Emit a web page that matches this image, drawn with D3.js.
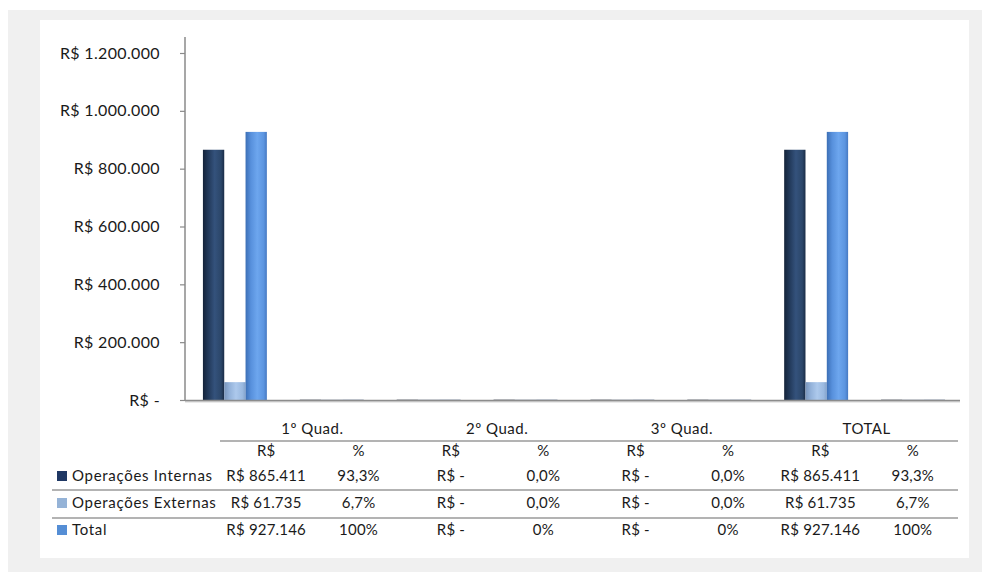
<!DOCTYPE html>
<html>
<head>
<meta charset="utf-8">
<script src="https://cdn.jsdelivr.net/npm/d3@7"></script>
<style>
  html, body { margin: 0; padding: 0; background: #ffffff; }
  svg { display: block; font-family: Lato, "Open Sans", sans-serif; }
  text { fill: #1a1a1a; }
</style>
</head>
<body>
<svg id="chart" width="982" height="572"></svg>
<script>
// Quarter groups and the two sub-columns shown for each of them
const groups = ["1º Quad.", "2º Quad.", "3º Quad.", "TOTAL"];
const subColumns = ["R$", "%"];
const seriesNames = ["Operações Internas", "Operações Externas", "Total"];

// One value per (group, sub-column): R$ amount, then share as a fraction
const internas = [865411, 0.933, 0, 0, 0, 0, 865411, 0.933];
const externas = [61735, 0.067, 0, 0, 0, 0, 61735, 0.067];
const totais   = [927146, 1, 0, 0, 0, 0, 927146, 1];

// Decimal places used for the % column of each series
const pctDecimals = [1, 1, 0];

const yTicks = [0, 200000, 400000, 600000, 800000, 1000000, 1200000];

const seriesValues = [internas, externas, totais];
const categories = d3.range(groups.length * subColumns.length);

const svg = d3.select("#chart");

// Background frame and white chart panel
svg.append("rect").attr("x", 8).attr("y", 10).attr("width", 974).attr("height", 562).attr("fill", "#f0f0f0");
svg.append("rect").attr("x", 40).attr("y", 20).attr("width", 929).attr("height", 538).attr("fill", "#ffffff");

// Portuguese number formatting
const ptBR = d3.formatLocale({ decimal: ",", thousands: ".", grouping: [3], currency: ["R$ ", ""] });
const fmtInt = ptBR.format(",.0f");
const fmtMoney = v => v === 0 ? "R$ -" : "R$ " + fmtInt(v);
const fmtPct = (v, dec) => ptBR.format("." + dec + "%")(v);

// Scales
const y = d3.scaleLinear().domain([0, 1200000]).range([400, 53]);
const x = d3.scaleBand().domain(categories).range([185, 960]).padding(0);
const xs = d3.scaleBand().domain(d3.range(seriesNames.length))
  .range([x.bandwidth() * 0.185, x.bandwidth() * 0.845]).padding(0);

// Cylinder-like gradients for the columns
const defs = svg.append("defs");
const gradStops = [
  [["0", "#142339"], ["0.2", "#1f3554"], ["0.55", "#34527c"], ["0.85", "#2b4669"], ["1", "#1a2c46"]],
  [["0", "#7895bc"], ["0.25", "#93b2da"], ["0.55", "#adc9ec"], ["0.85", "#9ab9e0"], ["1", "#84a3cb"]],
  [["0", "#3c6fb5"], ["0.25", "#5790dc"], ["0.55", "#6da6ee"], ["0.85", "#5c95e0"], ["1", "#4679c2"]]
];
const legendColors = ["#1f3864", "#95b3d7", "#558ed5"];
const zeroColors = ["#5d6570", "#9aa4b2", "#7d8ea8"];
gradStops.forEach((stops, i) => {
  const g = defs.append("linearGradient").attr("id", "g" + i)
    .attr("x1", "0").attr("x2", "1").attr("y1", "0").attr("y2", "0");
  stops.forEach(s => g.append("stop").attr("offset", s[0]).attr("stop-color", s[1]));
});

// Y axis
const yAxis = d3.axisLeft(y).tickValues(yTicks).tickFormat(fmtMoney).tickSize(5).tickPadding(20);
const yg = svg.append("g").attr("transform", "translate(185,0)").call(yAxis);
yg.select(".domain").remove();
yg.selectAll(".tick line").attr("stroke", "#8a8a8a").attr("stroke-width", 1.2);
yg.selectAll(".tick text").attr("font-size", 16).attr("letter-spacing", 0.35)
  .attr("font-family", "Lato, sans-serif").attr("fill", "#1a1a1a");
svg.append("line").attr("x1", 185).attr("x2", 185).attr("y1", 37).attr("y2", 401)
  .attr("stroke", "#8a8a8a").attr("stroke-width", 1.5);

// Columns
const barGroups = svg.append("g");
seriesValues.forEach((vals, si) => {
  barGroups.selectAll(".s" + si)
    .data(vals.map((v, ci) => ({ v, ci })))
    .join("rect")
    .attr("x", d => x(d.ci) + xs(si))
    .attr("width", xs.bandwidth())
    .attr("y", d => y(d.v))
    .attr("height", d => y(0) - y(d.v))
    .attr("fill", "url(#g" + si + ")");
});

// Category axis line
svg.append("line").attr("x1", 185).attr("x2", 960).attr("y1", 401.5).attr("y2", 401.5)
  .attr("stroke", "#d6d6d6").attr("stroke-width", 2);
svg.append("line").attr("x1", 185).attr("x2", 960).attr("y1", 400.5).attr("y2", 400.5)
  .attr("stroke", "#8c8c8c").attr("stroke-width", 1.6);

// Flat columns sitting on the axis line
seriesValues.forEach((vals, si) => {
  barGroups.selectAll(".z" + si)
    .data(vals.map((v, ci) => ({ v, ci })).filter(d => y(0) - y(d.v) < 1))
    .join("rect")
    .attr("x", d => x(d.ci) + xs(si))
    .attr("width", xs.bandwidth())
    .attr("y", 399.6)
    .attr("height", 1.8)
    .attr("fill", zeroColors[si]);
});

// Data table below the chart
const colX = d3.scaleBand().domain(categories).range([220, 959]);
const colCenter = i => colX(i) + colX.bandwidth() / 2;
const table = svg.append("g").attr("font-size", 15).attr("letter-spacing", 0.2)
  .attr("font-family", "Lato, sans-serif");

table.selectAll(".grp").data(groups).join("text")
  .attr("x", (d, i) => (colCenter(i * 2) + colCenter(i * 2 + 1)) / 2)
  .attr("y", 434).attr("text-anchor", "middle").attr("letter-spacing", 0.5).text(d => d);

table.append("line").attr("x1", 220).attr("x2", 958).attr("y1", 441).attr("y2", 441)
  .attr("stroke", "#9a9a9a").attr("stroke-width", 1.3);

table.selectAll(".sub").data(categories).join("text")
  .attr("x", d => colCenter(d)).attr("y", 456).attr("text-anchor", "middle")
  .text(d => subColumns[d % 2]);

const rowY = [481, 508, 535];
seriesNames.forEach((name, si) => {
  table.append("rect").attr("x", 57).attr("y", rowY[si] - 10).attr("width", 10).attr("height", 10)
    .attr("fill", legendColors[si]);
  table.append("text").attr("x", 72).attr("y", rowY[si]).attr("letter-spacing", 0.7).text(name);
  table.selectAll(".cell" + si).data(seriesValues[si]).join("text")
    .attr("x", (d, i) => colCenter(i)).attr("y", rowY[si]).attr("text-anchor", "middle")
    .text((d, i) => i % 2 === 0 ? fmtMoney(d) : fmtPct(d, pctDecimals[si]));
});

[490, 518].forEach(ly => {
  table.append("line").attr("x1", 52).attr("x2", 958).attr("y1", ly).attr("y2", ly)
    .attr("stroke", "#9a9a9a").attr("stroke-width", 1.3);
});
</script>
</body>
</html>
